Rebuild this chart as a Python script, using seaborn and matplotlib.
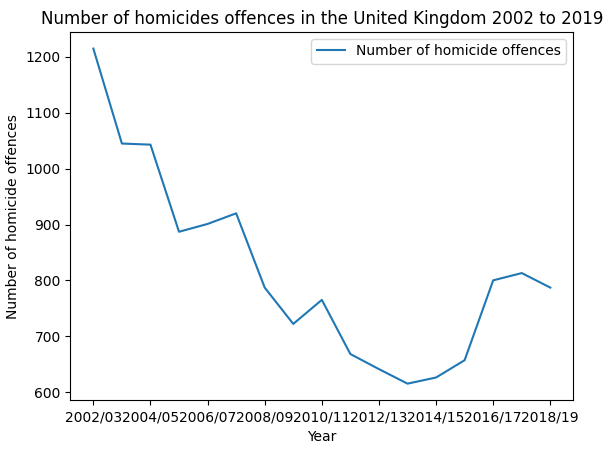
import seaborn as sns
import pandas as pd
import matplotlib.pyplot as plt

years = ['2002/03', '2003/04', '2004/05', '2005/06', '2006/07', '2007/08', '2008/09',
         '2009/10', '2010/11', '2011/12', '2012/13', '2013/14', '2014/15', '2015/16',
         '2016/17', '2017/18', '2018/19']
offences = [1215, 1045, 1043, 887, 901, 920, 787, 722, 765, 668, 641, 615, 626, 657,
            800, 813, 787]

df = pd.DataFrame({'Year': years, 'Number of homicide offences': offences})

fig, ax = plt.subplots(figsize=(6.13, 4.55), dpi=100)
fig.subplots_adjust(left=0.115, right=0.935, top=0.93, bottom=0.12)
sns.lineplot(data=df, x='Year', y='Number of homicide offences', ax=ax,
             label='Number of homicide offences', sort=False)
ax.set_xticks(range(0, len(years), 2))
ax.set_xticklabels(years[::2])
ax.set_title('Number of homicides offences in the United Kingdom 2002 to 2019')
ax.legend(loc='upper right')
fig.savefig('out.png')
